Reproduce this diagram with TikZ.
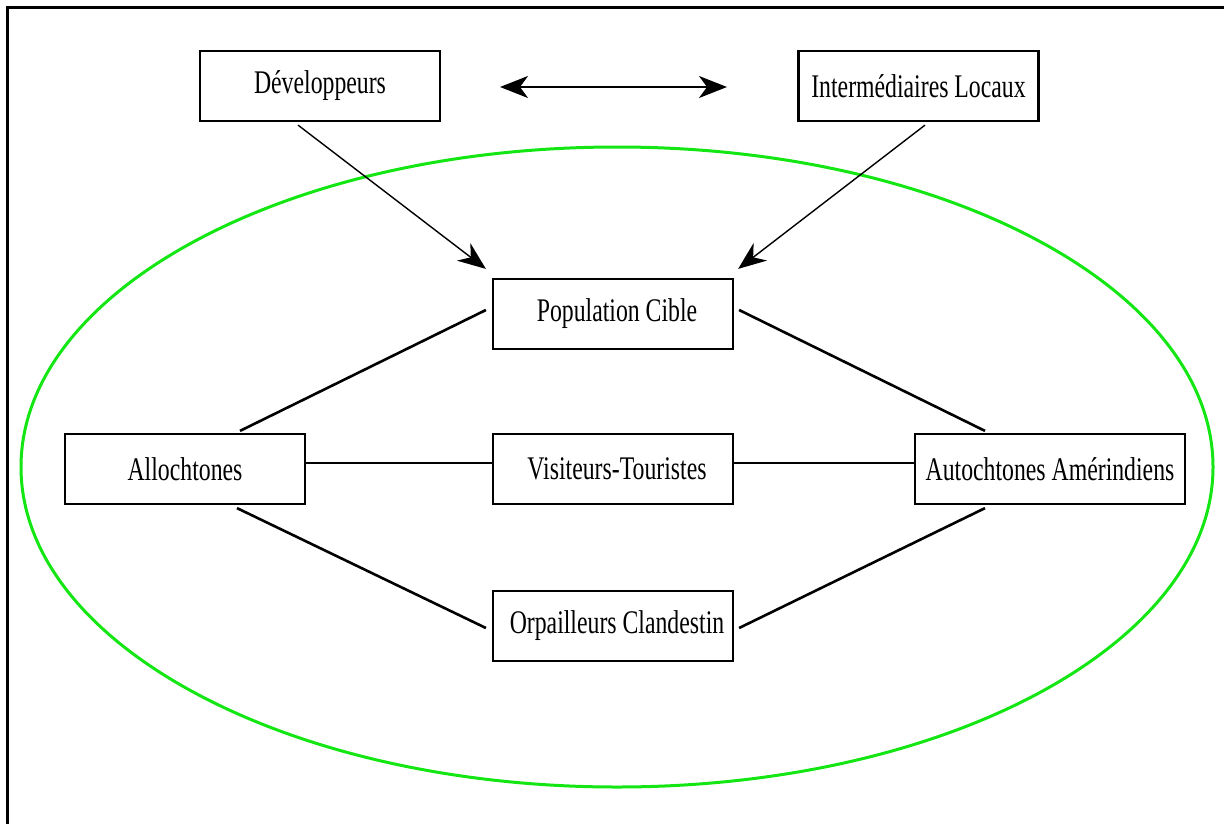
\documentclass[tikz,border=0pt]{standalone}
\usepackage{fontspec}
\setmainfont{Liberation Serif}[FakeStretch=0.72]
\usetikzlibrary{arrows.meta}

\definecolor{ringgreen}{RGB}{20,230,20}

\tikzset{
  actor/.style={draw, line width=1.1pt, minimum width=120pt, minimum height=35pt,
    inner sep=0pt, font=\fontsize{16.5}{20}\selectfont},
  link/.style={line width=1.3pt},
  hlink/.style={line width=0.8pt},
  flow/.style={line width=0.7pt, -{Stealth[length=14pt,width=11pt,inset=4.5pt]}},
  mutual/.style={line width=0.9pt, {Stealth[length=14pt,width=11pt,inset=4pt]}-{Stealth[length=14pt,width=11pt,inset=4pt]}}
}

\begin{document}
\begin{tikzpicture}[x=0.5pt, y=-0.5pt]
  \useasboundingbox (0,0) rectangle (1224,824);

  % frame
  \draw[line width=1.5pt] (7,824) -- (7,8) -- (1224,8);

  % territory ring
  \draw[ringgreen, line width=1.5pt] (617,467) ellipse [x radius=298pt, y radius=160pt];

  % actors
  \node[actor] (dev) at (320,86) {Développeurs};
  \node[actor] (inter) at (918.5,86) {Intermédiaires Locaux};
  \node[actor] (pop) at (613,314) {\hspace*{4pt}Population Cible};
  \node[actor] (allo) at (185,469) {Allochtones};
  \node[actor] (vis) at (613,469) {\hspace*{4pt}Visiteurs-Touristes};
  \node[actor, minimum width=135pt] (aut) at (1050,469) {Autochtones Amérindiens};
  \node[actor] (orp) at (613,626) {\hspace*{4pt}Orpailleurs Clandestin};

  % exchange between the two outside actors
  \coordinate (xa) at (500,87);
  \coordinate (xb) at (727,87);
  \draw[mutual] (xa) -- (xb);

  % influence on the target population
  \draw[flow] ([xshift=-11pt,yshift=-1.5pt]dev.south) -- ([xshift=-3pt,yshift=4.5pt]pop.north west);
  \draw[flow] ([xshift=3.25pt,yshift=-1.5pt]inter.south) -- ([xshift=2pt,yshift=4.5pt]pop.north east);

  % relations inside the territory
  \draw[link] ([xshift=-3pt,yshift=2pt]pop.west) -- ([xshift=27.5pt,yshift=1pt]allo.north);
  \draw[link] ([xshift=2.5pt,yshift=2pt]pop.east) -- ([xshift=-32.5pt,yshift=1pt]aut.north);
  \draw[link] ([xshift=26pt,yshift=-1.5pt]allo.south) -- ([xshift=-3pt,yshift=-1pt]orp.west);
  \draw[link] ([xshift=-32.5pt,yshift=-1.5pt]aut.south) -- ([xshift=2.5pt,yshift=-1pt]orp.east);
  \draw[hlink] ([yshift=3pt]allo.east) -- ([yshift=3pt]vis.west);
  \draw[hlink] ([yshift=3pt]vis.east) -- ([yshift=3pt]aut.west);
\end{tikzpicture}
\end{document}
